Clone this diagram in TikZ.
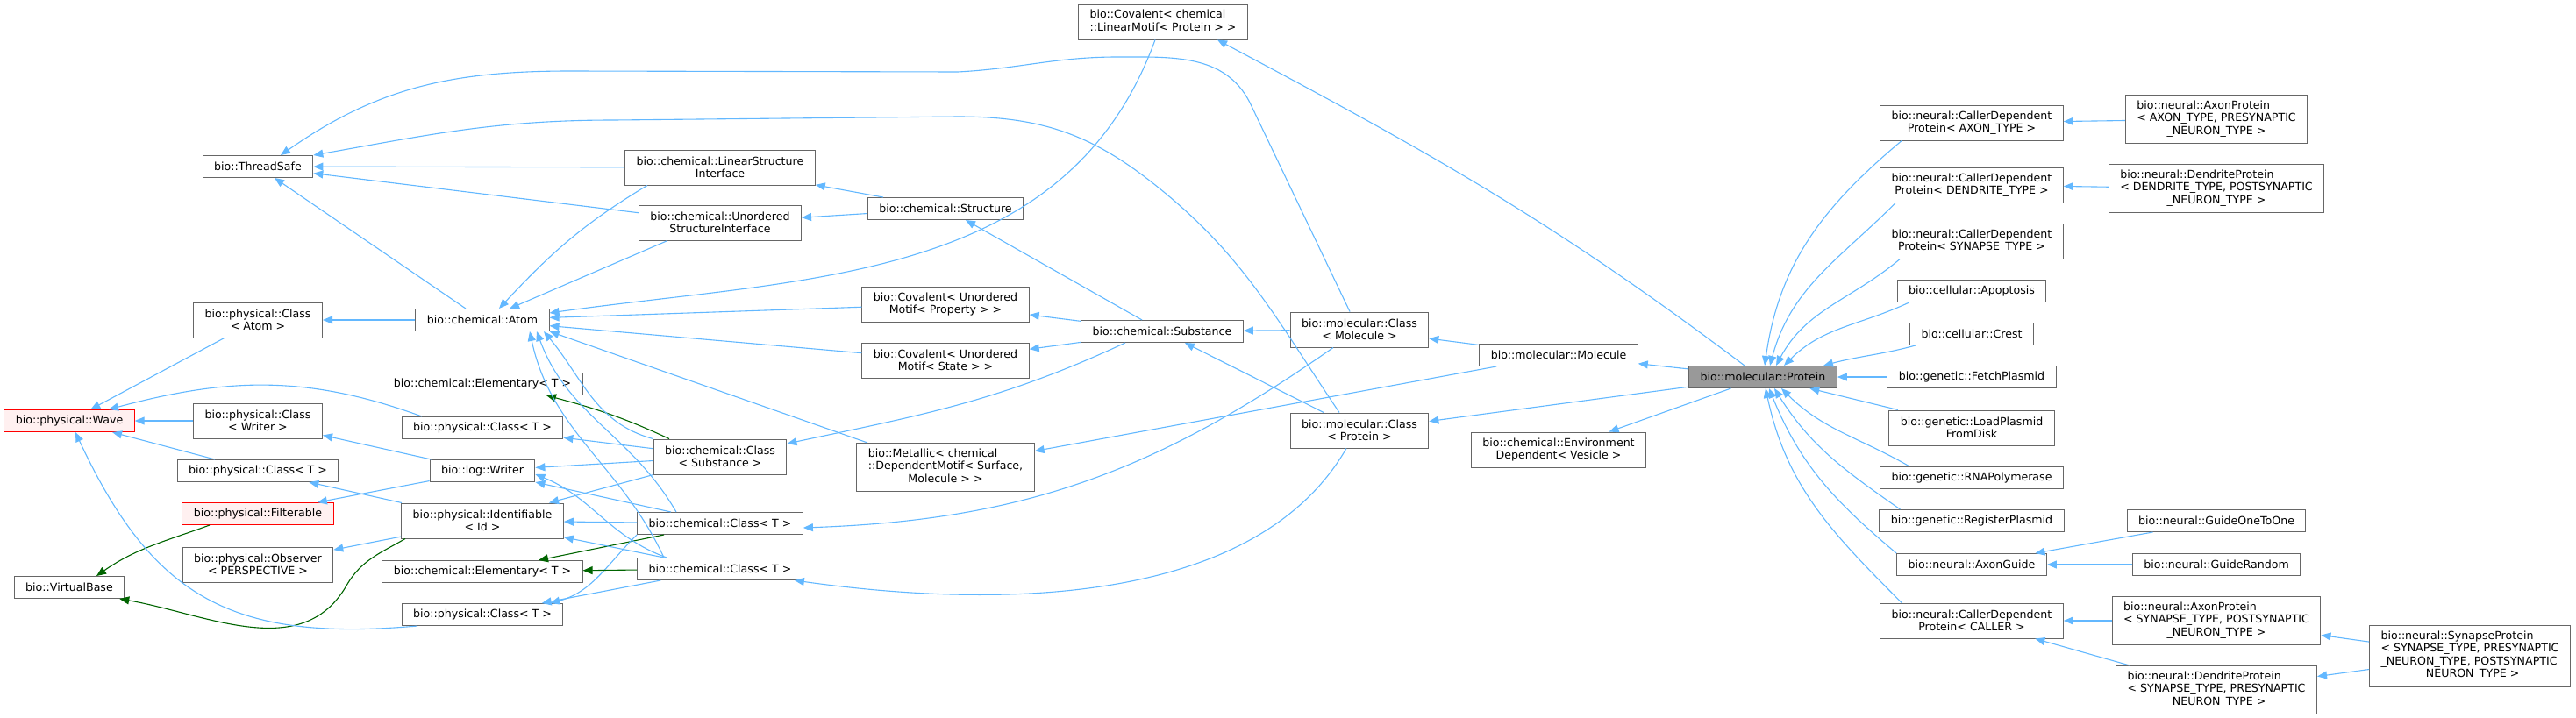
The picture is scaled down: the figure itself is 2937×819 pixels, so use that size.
\documentclass[tikz,border=0pt]{standalone}
\usepackage{fontspec}
\setmainfont{DejaVu Sans}
\usetikzlibrary{arrows.meta}
\definecolor{edgeblue}{HTML}{63B8FF}
\definecolor{edgegreen}{HTML}{006400}
\definecolor{framegray}{HTML}{666666}
\definecolor{truncpink}{HTML}{FFF0F0}
\definecolor{focusgray}{HTML}{999999}
\newcommand{\leftlabel}[1]{\begin{tabular}{@{}l@{}}#1\end{tabular}}
\newcommand{\midrow}[1]{\multicolumn{1}{@{}c@{}}{#1}}

\begin{document}
\begin{tikzpicture}[x=1pt, y=1pt,
	cls/.style = {draw=framegray, fill=white, line width=1pt, font=\fontsize{12.6}{14.5}\selectfont, align=center, inner xsep=13pt, inner ysep=2pt, minimum height=25pt},
	twoline/.style = {minimum height=40pt},
	threeline/.style = {minimum height=55pt},
	fourline/.style = {minimum height=70pt},
	trunc/.style = {draw=red, fill=truncpink},
	focus/.style = {fill=focusgray},
	pub/.style = {draw=edgeblue, line width=1.1pt, -{Triangle[length=11pt, width=9pt]}},
	prot/.style = {pub, draw=edgegreen}]
	\useasboundingbox (0,0) rectangle (2937,-819);
	\node[cls, trunc] (wave) at (79,-480) {bio::physical::Wave};
	\node[cls] (vbase) at (79,-670) {bio::VirtualBase};
	\node[cls] (tsafe) at (294,-190) {bio::ThreadSafe};
	\node[cls, twoline] (clsatom) at (294,-365) {bio::physical::Class\\< Atom >};
	\draw[pub] (clsatom) -- (wave);
	\node[cls, twoline] (clswriter) at (294,-480) {bio::physical::Class\\< Writer >};
	\draw[pub] (clswriter) -- (wave);
	\node[cls] (pclsA) at (294,-537) {bio::physical::Class< T >};
	\draw[pub] (pclsA) -- (wave);
	\node[cls, trunc] (filter) at (294,-586) {bio::physical::Filterable};
	\draw[prot] ([xshift=-55pt]filter.south) to[out=200,in=35] ([xshift=31pt]vbase.north);
	\node[cls, twoline] (observer) at (294,-644) {bio::physical::Observer\\< PERSPECTIVE >};

	\node[cls] (atom) at (550,-365) {bio::chemical::Atom};
	\draw[pub] (atom) -- (tsafe);
	\draw[pub] (atom) -- (clsatom);
	\node[cls] (elemA) at (550,-438) {bio::chemical::Elementary< T >};
	\node[cls] (pclsB) at (550,-488) {bio::physical::Class< T >};
	\draw[pub] ([xshift=-69pt]pclsB.north) to[out=160,in=15] ([xshift=45pt]wave.north);
	\node[cls] (writer) at (550,-537) {bio::log::Writer};
	\draw[pub] (writer) -- (clswriter);
	\draw[pub] (writer) -- (filter);
	\node[cls, twoline] (ident) at (550,-594) {bio::physical::Identifiable\\< Id >};
	\draw[pub] (ident) -- (pclsA);
	\draw[pub] (ident) -- (observer);
	\draw[prot] ([xshift=-88pt]ident.south) to[out=210,in=60] (395,-668) to[out=240,in=-10] ([xshift=-6pt]vbase.south east);
	\node[cls] (elemB) at (550,-652) {bio::chemical::Elementary< T >};
	\node[cls] (pclsC) at (550,-701) {bio::physical::Class< T >};
	\draw[pub] ([xshift=-74pt]pclsC.south) to[out=185,in=-65,looseness=1.2] ([xshift=7pt]wave.south);

	\node[cls, twoline] (linstruct) at (821,-191) {bio::chemical::LinearStructure\\Interface};
	\draw[pub] (linstruct) -- (tsafe);
	\draw[pub] ([xshift=-83pt]linstruct.south) to[out=211,in=47] ([xshift=19pt]atom.north);
	\node[cls, twoline] (unstruct) at (821,-254) {bio::chemical::Unordered\\StructureInterface};
	\draw[pub] (unstruct) -- (tsafe);
	\draw[pub] ([xshift=-60pt]unstruct.south) -- ([xshift=31pt]atom.north);
	\node[cls, twoline] (clssubst) at (821,-521) {bio::chemical::Class\\< Substance >};
	\draw[prot] ([xshift=-58pt]clssubst.north) to[out=155,in=-15] ([xshift=73pt]elemA.south);
	\draw[pub] (clssubst) -- (pclsB);
	\draw[pub] (clssubst) -- (writer);
	\draw[pub] (clssubst) -- (ident);
	\draw[pub] (clssubst.north west) to[out=165,in=-50] ([xshift=70pt]atom.south);
	\node[cls] (cclsA) at (821,-597) {bio::chemical::Class< T >};
	\draw[pub] (cclsA) -- (ident);
	\draw[prot] (cclsA) -- (elemB);
	\draw[pub] ([xshift=-56pt]cclsA.north) -- (writer.south east);
	\draw[pub] ([xshift=-50pt]cclsA.north) to[out=120,in=-70] ([xshift=62pt]atom.south);
	\draw[pub] (cclsA.south west) to[out=225,in=15] ([xshift=-15pt]pclsC.north east);
	\node[cls] (cclsB) at (821,-649) {bio::chemical::Class< T >};
	\draw[pub] (cclsB) -- (ident);
	\draw[prot] (cclsB) -- (elemB);
	\draw[pub] (cclsB) -- (pclsC);
	\draw[pub] ([xshift=-61pt]cclsB.north) to[out=160,in=-22] ([yshift=-4pt]writer.east);
	\draw[pub] ([xshift=-64pt]cclsB.north) to[out=115,in=-78] ([xshift=54pt]atom.south);

	\node[cls] (structure) at (1078,-238) {bio::chemical::Structure};
	\draw[pub] (structure) -- (linstruct);
	\draw[pub] (structure) -- (unstruct);
	\node[cls, twoline] (covprop) at (1078,-347) {bio::Covalent< Unordered\\Motif< Property > >};
	\draw[pub] (covprop) -- (atom);
	\node[cls, twoline] (covstate) at (1078,-411) {bio::Covalent< Unordered\\Motif< State > >};
	\draw[pub] (covstate) -- (atom);
	\node[cls, threeline] (metallic) at (1078,-533) {\leftlabel{bio::Metallic< chemical\\::DependentMotif< Surface,\\\midrow{Molecule > >}}};
	\draw[pub] ([xshift=-89pt]metallic.north) -- (atom.south east);

	\node[cls, twoline] (covlin) at (1326,-25) {\leftlabel{bio::Covalent< chemical\\::LinearMotif< Protein > >}};
	\draw[pub] ([xshift=-9pt]covlin.south) to[out=250,in=8] ([yshift=8pt]atom.east);
	\node[cls] (substance) at (1325,-378) {bio::chemical::Substance};
	\draw[pub] (substance) -- (structure);
	\draw[pub] (substance) -- (covprop);
	\draw[pub] (substance) -- (covstate);
	\draw[pub] ([xshift=-42pt]substance.south) to[out=205,in=12] ([yshift=15pt]clssubst.east);

	\node[cls, twoline] (clsmol) at (1550,-376) {bio::molecular::Class\\< Molecule >};
	\draw[pub] (clsmol) -- (substance);
	\draw[pub] ([xshift=-11pt]clsmol.north) -- (1425,-117) to[out=117,in=0] (1274,-65) to[out=180,in=3] (1092,-82) -- (650,-81) to[out=180,in=35] ([xshift=26pt]tsafe.north);
	\draw[pub] ([xshift=-30pt]clsmol.south) to[out=215,in=2] ([yshift=-5pt]cclsA.east);
	\node[cls, twoline] (clsprot) at (1550,-491) {bio::molecular::Class\\< Protein >};
	\draw[pub] (clsprot) -- (substance);
	\draw[pub] ([xshift=-23pt]clsprot.north) to[out=124,in=-38] (1312,-207) to[out=142,in=0] (1092,-133) -- (700,-137) to[out=180,in=10] (tsafe.north east);
	\draw[pub] ([xshift=-15pt]clsprot.south) to[out=240,in=-8,looseness=0.85] ([xshift=-10pt]cclsB.south east);

	\node[cls] (molecule) at (1777,-405) {bio::molecular::Molecule};
	\draw[pub] (molecule) -- (clsmol);
	\draw[pub] (molecule) -- (metallic);
	\node[cls, twoline] (envdep) at (1777,-513) {bio::chemical::Environment\\Dependent< Vesicle >};

	\node[cls, focus] (protein) at (2010,-430) {bio::molecular::Protein};
	\draw[pub] ([xshift=-21pt]protein.north) to[out=143,in=-28] ([xshift=62pt]covlin.south);
	\draw[pub] (protein) -- (molecule);
	\draw[pub] (protein) -- (clsprot);
	\draw[pub] (protein) -- (envdep);

	\node[cls, twoline] (cdpaxon) at (2248,-140) {bio::neural::CallerDependent\\Protein< AXON\_TYPE >};
	\draw[pub] ([xshift=25pt]cdpaxon.south west) to[out=220,in=82] ([xshift=2pt]protein.north);
	\node[cls, twoline] (cdpdend) at (2248,-211) {bio::neural::CallerDependent\\Protein< DENDRITE\_TYPE >};
	\draw[pub] ([xshift=18pt]cdpdend.south west) to[out=225,in=75] ([xshift=8pt]protein.north);
	\node[cls, twoline] (cdpsyn) at (2248,-275) {bio::neural::CallerDependent\\Protein< SYNAPSE\_TYPE >};
	\draw[pub] ([xshift=23pt]cdpsyn.south west) to[out=220,in=62] ([xshift=15pt]protein.north);
	\node[cls] (apoptosis) at (2248,-332) {bio::cellular::Apoptosis};
	\draw[pub] ([xshift=14pt]apoptosis.south west) to[out=205,in=45] ([xshift=24pt]protein.north);
	\node[cls] (crest) at (2248,-381) {bio::cellular::Crest};
	\draw[pub] ([xshift=7pt]crest.south west) to[out=195,in=15] ([xshift=69pt]protein.north);
	\node[cls] (fetch) at (2248,-430) {bio::genetic::FetchPlasmid};
	\draw[pub] (fetch) -- (protein);
	\node[cls, twoline] (loadplasmid) at (2248,-488) {bio::genetic::LoadPlasmid\\FromDisk};
	\draw[pub] (loadplasmid) -- (protein);
	\node[cls] (rnapol) at (2248,-545) {bio::genetic::RNAPolymerase};
	\draw[pub] ([xshift=34pt]rnapol.north west) to[out=150,in=-45] ([xshift=21pt]protein.south);
	\node[cls] (register) at (2248,-594) {bio::genetic::RegisterPlasmid};
	\draw[pub] ([xshift=24pt]register.north west) to[out=145,in=-58] ([xshift=13pt]protein.south);
	\node[cls] (axonguide) at (2248,-644) {bio::neural::AxonGuide};
	\draw[pub] (axonguide.north west) to[out=140,in=-68] ([xshift=7pt]protein.south);
	\node[cls, twoline] (cdpcaller) at (2248,-708) {bio::neural::CallerDependent\\Protein< CALLER >};
	\draw[pub] ([xshift=25pt]cdpcaller.north west) to[out=135,in=-78] ([xshift=3pt]protein.south);

	\node[cls, threeline] (axonprotA) at (2527,-136) {\leftlabel{bio::neural::AxonProtein\\< AXON\_TYPE, PRESYNAPTIC\\\midrow{\_NEURON\_TYPE >}}};
	\draw[pub] (axonprotA) -- (cdpaxon);
	\node[cls, threeline] (dendprotA) at (2527,-215) {\leftlabel{bio::neural::DendriteProtein\\< DENDRITE\_TYPE, POSTSYNAPTIC\\\midrow{\_NEURON\_TYPE >}}};
	\draw[pub] (dendprotA) -- (cdpdend);
	\node[cls] (guide121) at (2527,-594) {bio::neural::GuideOneToOne};
	\draw[pub] (guide121) -- (axonguide);
	\node[cls] (guiderand) at (2527,-644) {bio::neural::GuideRandom};
	\draw[pub] (guiderand) -- (axonguide);
	\node[cls, threeline] (axonprotB) at (2527,-708) {\leftlabel{bio::neural::AxonProtein\\< SYNAPSE\_TYPE, POSTSYNAPTIC\\\midrow{\_NEURON\_TYPE >}}};
	\draw[pub] (axonprotB) -- (cdpcaller);
	\node[cls, threeline] (dendprotB) at (2527,-787) {\leftlabel{bio::neural::DendriteProtein\\< SYNAPSE\_TYPE, PRESYNAPTIC\\\midrow{\_NEURON\_TYPE >}}};
	\draw[pub] (dendprotB) -- (cdpcaller);

	\node[cls, fourline] (synprot) at (2816,-748) {\leftlabel{bio::neural::SynapseProtein\\< SYNAPSE\_TYPE, PRESYNAPTIC\\\_NEURON\_TYPE, POSTSYNAPTIC\\\midrow{\_NEURON\_TYPE >}}};
	\draw[pub] (synprot) -- (axonprotB);
	\draw[pub] (synprot) -- (dendprotB);
\end{tikzpicture}
\end{document}
